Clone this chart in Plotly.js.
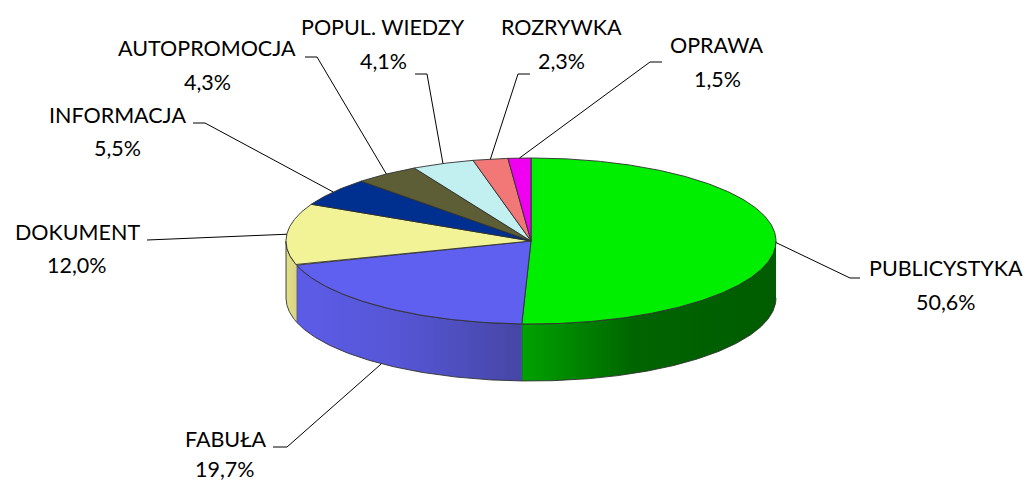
<!DOCTYPE html>
<html>
<head>
<meta charset="utf-8">
<script src="https://cdn.plot.ly/plotly-3.0.1.min.js"></script>
<style>html,body{margin:0;padding:0;background:#fff;}#chart{width:1027px;height:482px;}</style>
</head>
<body>
<div id="chart"></div>
<script>
// ---- data ----
const categories = ['PUBLICYSTYKA', 'FABUŁA', 'DOKUMENT', 'INFORMACJA', 'AUTOPROMOCJA', 'POPUL. WIEDZY', 'ROZRYWKA', 'OPRAWA'];
const shares = [50.6, 19.7, 12.0, 5.5, 4.3, 4.1, 2.3, 1.5];

// ---- styles ----
const topColors = ['#00EE00', '#5F5FF0', '#F2F296', '#00308F', '#5E5E36', '#C2F0F0', '#F27878', '#F000F0'];
const sideScales = [
  [[0, '#00A200'], [0.45, '#006400'], [1, '#005C00']],
  [[0, '#5C5CE8'], [0.45, '#5656D6'], [1, '#4646A6']],
  [[0, '#E2DE8A'], [1, '#D8D480']],
  [[0, '#002870'], [1, '#002870']],
  [[0, '#4A4A2A'], [1, '#4A4A2A']],
  [[0, '#A8D8D8'], [1, '#A8D8D8']],
  [[0, '#D06060'], [1, '#D06060']],
  [[0, '#C000C0'], [1, '#C000C0']]
];
// label layout: [textX, nameY, valueY, elbowX, elbowY, endX]
const labelPos = [
  [946, 268, 302, 850, 278, 860],
  [225, 439, 469, 287, 447, 273],
  [77, 232, 265, 160, 240, 147],
  [117, 115, 148, 205, 123, 193],
  [207, 48, 82, 317, 57, 305],
  [383, 27, 61, 427, 74, 415],
  [561, 27, 61, 518, 74, 530],
  [717, 45, 79, 650, 62, 662]
];

// ---- geometry ----
const CX = 531, CY = 241, RX = 245, RY = 83, DEPTH = 57;
function pt(deg, dy) {
  const a = deg * Math.PI / 180;
  return [CX + RX * Math.sin(a), CY - RY * Math.cos(a) + (dy || 0)];
}
function arc(a0, a1, dy) {
  const n = Math.max(2, Math.ceil(Math.abs(a1 - a0) / 0.5));
  const xs = [], ys = [];
  for (let i = 0; i <= n; i++) {
    const p = pt(a0 + (a1 - a0) * i / n, dy);
    xs.push(p[0]); ys.push(p[1]);
  }
  return [xs, ys];
}

const total = shares.reduce((s, v) => s + v, 0);
const traces = [];
const annotations = [];
let cum = 0;
const fmt = v => v.toFixed(1).replace('.', ',') + '%';

shares.forEach((v, i) => {
  const s = cum / total * 360;
  const e = (cum + v) / total * 360;
  cum += v;
  // side face (visible front half: 90..270 deg)
  const a = Math.max(s, 90), b = Math.min(e, 270);
  if (b > a) {
    const t = arc(a, b, 0), bt = arc(b, a, DEPTH);
    traces.push({
      type: 'scatter', mode: 'lines',
      x: t[0].concat(bt[0]), y: t[1].concat(bt[1]),
      fill: 'toself',
      fillgradient: {type: 'horizontal', colorscale: sideScales[i]},
      line: {color: '#303030', width: 0.9},
      hoverinfo: 'skip', showlegend: false
    });
  }
  // top face
  const ar = arc(s, e, 0);
  traces.push({
    type: 'scatter', mode: 'lines',
    x: [CX].concat(ar[0], [CX]), y: [CY].concat(ar[1], [CY]),
    fill: 'toself', fillcolor: topColors[i],
    line: {color: '#303030', width: 0.9},
    hoverinfo: 'skip', showlegend: false
  });
});

// leader lines and labels
cum = 0;
shares.forEach((v, i) => {
  const mid = (cum + v / 2) / total * 360;
  cum += v;
  const front = mid > 100 && mid < 260;
  const anchor = pt(mid, front ? DEPTH : 0);
  const L = labelPos[i];
  traces.push({
    type: 'scatter', mode: 'lines',
    x: [anchor[0], L[3], L[5]], y: [anchor[1], L[4], L[4]],
    line: {color: '#000', width: 1},
    hoverinfo: 'skip', showlegend: false
  });
  annotations.push({x: L[0], y: L[1], text: categories[i], showarrow: false, xanchor: 'center', yanchor: 'middle'});
  annotations.push({x: L[0], y: L[2], text: fmt(v), showarrow: false, xanchor: 'center', yanchor: 'middle'});
});

const layout = {
  width: 1027, height: 482,
  margin: {l: 0, r: 0, t: 0, b: 0},
  paper_bgcolor: '#fff', plot_bgcolor: '#fff',
  font: {family: 'Lato, "Open Sans", sans-serif', size: 21.5, color: '#000'},
  xaxis: {range: [0, 1027], visible: false, fixedrange: true},
  yaxis: {range: [482, 0], visible: false, fixedrange: true},
  annotations: annotations,
  showlegend: false
};
Plotly.newPlot('chart', traces, layout, {displayModeBar: false, staticPlot: true});
</script>
</body>
</html>
